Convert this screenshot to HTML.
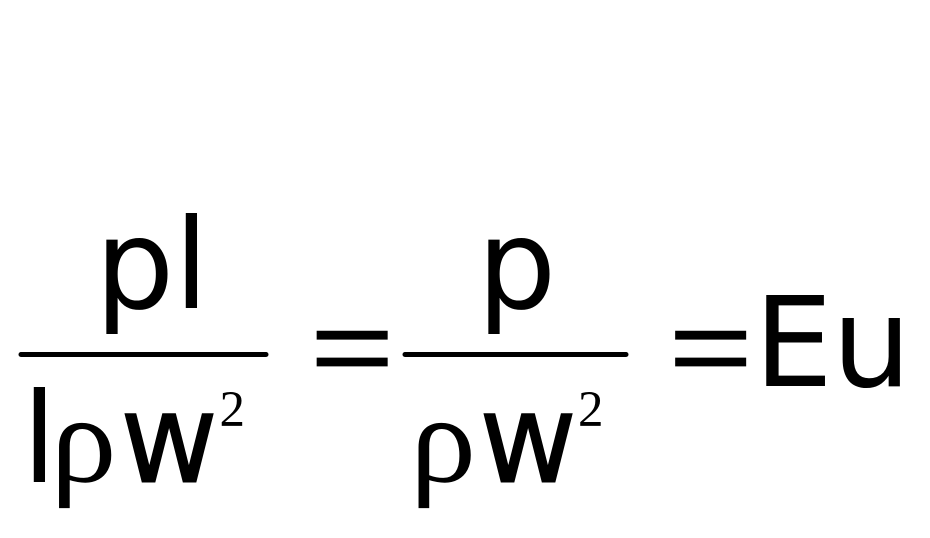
<!DOCTYPE html>
<html><head><meta charset="utf-8"><style>
html,body{margin:0;padding:0;background:#fff;width:930px;height:538px;overflow:hidden}
svg{display:block}
.d{font-family:"DejaVu Sans",sans-serif;font-size:125px}
.s{font-family:"Liberation Serif",serif;font-size:125px}
.t{font-family:"Liberation Serif",serif;font-size:51px}
.w{stroke:#000;stroke-width:1px}
.e{stroke:#000;stroke-width:2px}
</style></head><body>
<svg width="930" height="538" viewBox="0 0 930 538" xmlns="http://www.w3.org/2000/svg">
<rect width="930" height="538" fill="#fff"/>
<text class="d" x="95" y="308">p</text>
<text class="d" x="174" y="308">l</text>
<line x1="21" y1="354.5" x2="266" y2="354.5" stroke="#000" stroke-width="5" stroke-linecap="round"/>
<text class="d" x="22" y="482">l</text>
<text class="s" transform="translate(50.5 481.5) scale(1.06 1)" x="0" y="0">ρ</text>
<text class="d w" transform="translate(120 482) scale(.96 1)" x="0" y="0">w</text>
<text class="t" x="219.5" y="426">2</text>
<text class="s e" transform="translate(310.5 393) scale(1.18 1.07)" x="0" y="0">=</text>
<text class="d" x="477" y="308">p</text>
<line x1="405" y1="354.5" x2="626" y2="354.5" stroke="#000" stroke-width="5" stroke-linecap="round"/>
<text class="s" transform="translate(410 481.5) scale(1.06 1)" x="0" y="0">ρ</text>
<text class="d w" transform="translate(479 482) scale(.96 1)" x="0" y="0">w</text>
<text class="t" x="578" y="426">2</text>
<text class="s e" transform="translate(669 393) scale(1.18 1.07)" x="0" y="0">=</text>
<text class="d" x="754" y="386">E</text>
<text class="d" x="832" y="386">u</text>
</svg>
</body></html>
